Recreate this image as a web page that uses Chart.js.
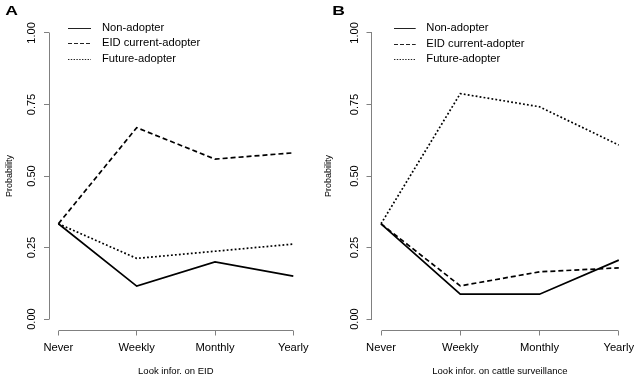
<!DOCTYPE html>
<html><head><meta charset="utf-8">
<script src="https://cdn.jsdelivr.net/npm/chart.js@4.4.0/dist/chart.umd.min.js"></script>
<style>
html,body{margin:0;padding:0;background:#fff;}
#wrap{position:relative;width:638px;height:380px;overflow:hidden;}
canvas{position:absolute;top:0;}
</style></head><body>
<div id="wrap">
<canvas id="cA" width="319" height="380" style="left:0px"></canvas>
<canvas id="cB" width="319" height="380" style="left:319px"></canvas>
</div>
<script>
// ---- data ----
const categories = ['Never', 'Weekly', 'Monthly', 'Yearly'];
const seriesNames = ['Non-adopter', 'EID current-adopter', 'Future-adopter'];
const yTicks = [0, 0.25, 0.5, 0.75, 1];
const panelA_non    = [0.333, 0.115, 0.200, 0.150];
const panelA_eid    = [0.333, 0.669, 0.559, 0.581];
const panelA_future = [0.333, 0.212, 0.237, 0.262];
const panelB_non    = [0.333, 0.087, 0.087, 0.206];
const panelB_eid    = [0.333, 0.116, 0.165, 0.179];
const panelB_future = [0.333, 0.788, 0.742, 0.608];
const xTitleA = 'Look infor. on EID';
const xTitleB = 'Look infor. on cattle surveillance';
const yTitle = 'Probability';
const panelLabels = ['A', 'B'];

// ---- styles ----
const FONT = "'Liberation Sans', Arial, Helvetica, sans-serif";
Chart.defaults.font.family = FONT;
const AXIS_COLOR = '#808080';
const TEXT_COLOR = '#000000';
const lineDashes = [[], [5, 3], [1.8, 2.2]];
const legendDashes = [[], [4, 2], [1.4, 1.4]];

function toPoints(vals) { return vals.map((v, i) => ({ x: i + 1, y: v })); }

const rAxes = {
  id: 'rAxes',
  afterDraw(chart) {
    const { ctx, chartArea, scales: { x, y } } = chart;
    const al = p => Math.round(p - 0.5) + 0.5;
    ctx.save();
    ctx.strokeStyle = AXIS_COLOR;
    ctx.lineWidth = 1;
    ctx.setLineDash([]);
    const yb = al(chartArea.bottom);
    ctx.beginPath();
    ctx.moveTo(al(x.getPixelForValue(1)), yb);
    ctx.lineTo(al(x.getPixelForValue(categories.length)), yb);
    const xl = al(chartArea.left);
    ctx.moveTo(xl, al(y.getPixelForValue(yTicks[0])));
    ctx.lineTo(xl, al(y.getPixelForValue(yTicks[yTicks.length - 1])));
    ctx.stroke();
    ctx.restore();
  }
};

const rLegend = {
  id: 'rLegend',
  afterDraw(chart, args, o) {
    const ctx = chart.ctx;
    ctx.save();
    chart.data.datasets.forEach((ds, i) => {
      const yy = o.top + i * o.gap;
      ctx.strokeStyle = '#222';
      ctx.lineWidth = 1;
      ctx.setLineDash(legendDashes[i]);
      ctx.beginPath();
      ctx.moveTo(o.lineX0, Math.round(yy) + 0.5);
      ctx.lineTo(o.lineX1, Math.round(yy) + 0.5);
      ctx.stroke();
      ctx.setLineDash([]);
      ctx.fillStyle = TEXT_COLOR;
      ctx.font = '11.2px ' + FONT;
      ctx.textAlign = 'left';
      ctx.textBaseline = 'middle';
      ctx.fillText(ds.label, o.textX, yy);
    });
    ctx.fillStyle = '#000';
    ctx.font = 'bold 13px ' + FONT;
    ctx.textAlign = 'center';
    ctx.textBaseline = 'middle';
    ctx.translate(o.panelX, o.panelY);
    ctx.scale(1.35, 1);
    ctx.fillText(o.panel, 0, 0);
    ctx.restore();
  }
};

function makeChart(id, vals, xTitle, cfg) {
  const datasets = vals.map((v, i) => ({
    label: seriesNames[i],
    data: toPoints(v),
    borderColor: '#000000',
    backgroundColor: '#000000',
    borderWidth: 1.7,
    borderDash: lineDashes[i],
    pointRadius: 0,
    pointHoverRadius: 0,
    tension: 0,
    fill: false
  }));
  return new Chart(document.getElementById(id), {
    type: 'line',
    data: { datasets },
    plugins: [rAxes, rLegend],
    options: {
      responsive: false,
      animation: false,
      events: [],
      layout: { padding: { left: 0, right: cfg.padRight, top: 21.5, bottom: 0 } },
      plugins: {
        legend: { display: false },
        tooltip: { enabled: false },
        rLegend: cfg.legend
      },
      scales: {
        x: {
          type: 'linear',
          min: 0.88, max: 4.12,
          afterBuildTicks: s => { s.ticks = categories.map((c, i) => ({ value: i + 1 })); },
          afterFit: s => { s.height = 49.5; s.paddingLeft = 0; s.paddingRight = 0; },
          grid: { drawOnChartArea: false, drawTicks: true, tickLength: 5, color: AXIS_COLOR, lineWidth: 1 },
          border: { display: false },
          ticks: {
            autoSkip: false, maxRotation: 0, minRotation: 0, padding: 5.6,
            color: TEXT_COLOR, font: { size: 11.2 },
            callback: v => categories[v - 1]
          },
          title: { display: true, text: xTitle, color: TEXT_COLOR, font: { size: 9.5 }, padding: { top: 0, bottom: 2.6 } }
        },
        y: {
          type: 'linear',
          min: -0.04, max: 1.04,
          afterBuildTicks: s => { s.ticks = yTicks.map(v => ({ value: v })); },
          afterFit: s => { s.width = cfg.yWidth; s.paddingTop = 0; s.paddingBottom = 0; },
          grid: { drawOnChartArea: false, drawTicks: true, tickLength: 5, color: AXIS_COLOR, lineWidth: 1 },
          border: { display: false },
          ticks: {
            autoSkip: false, minRotation: 90, maxRotation: 90, crossAlign: 'center', padding: 1,
            color: TEXT_COLOR, font: { size: 11 },
            callback: v => v.toFixed(2)
          },
          title: { display: true, text: yTitle, color: TEXT_COLOR, font: { size: 9 }, padding: { top: 4, bottom: 0 } }
        }
      }
    }
  });
}

makeChart('cA', [panelA_non, panelA_eid, panelA_future], xTitleA, {
  padRight: 16.3, yWidth: 49,
  legend: { top: 28, gap: 15.4, lineX0: 68, lineX1: 91, textX: 102, panel: panelLabels[0], panelX: 11.7, panelY: 11.5 }
});
makeChart('cB', [panelB_non, panelB_eid, panelB_future], xTitleB, {
  padRight: 9.7, yWidth: 52.5,
  legend: { top: 28.3, gap: 15.4, lineX0: 75, lineX1: 96.7, textX: 107.3, panel: panelLabels[1], panelX: 19.5, panelY: 11.5 }
});
</script>
</body></html>
